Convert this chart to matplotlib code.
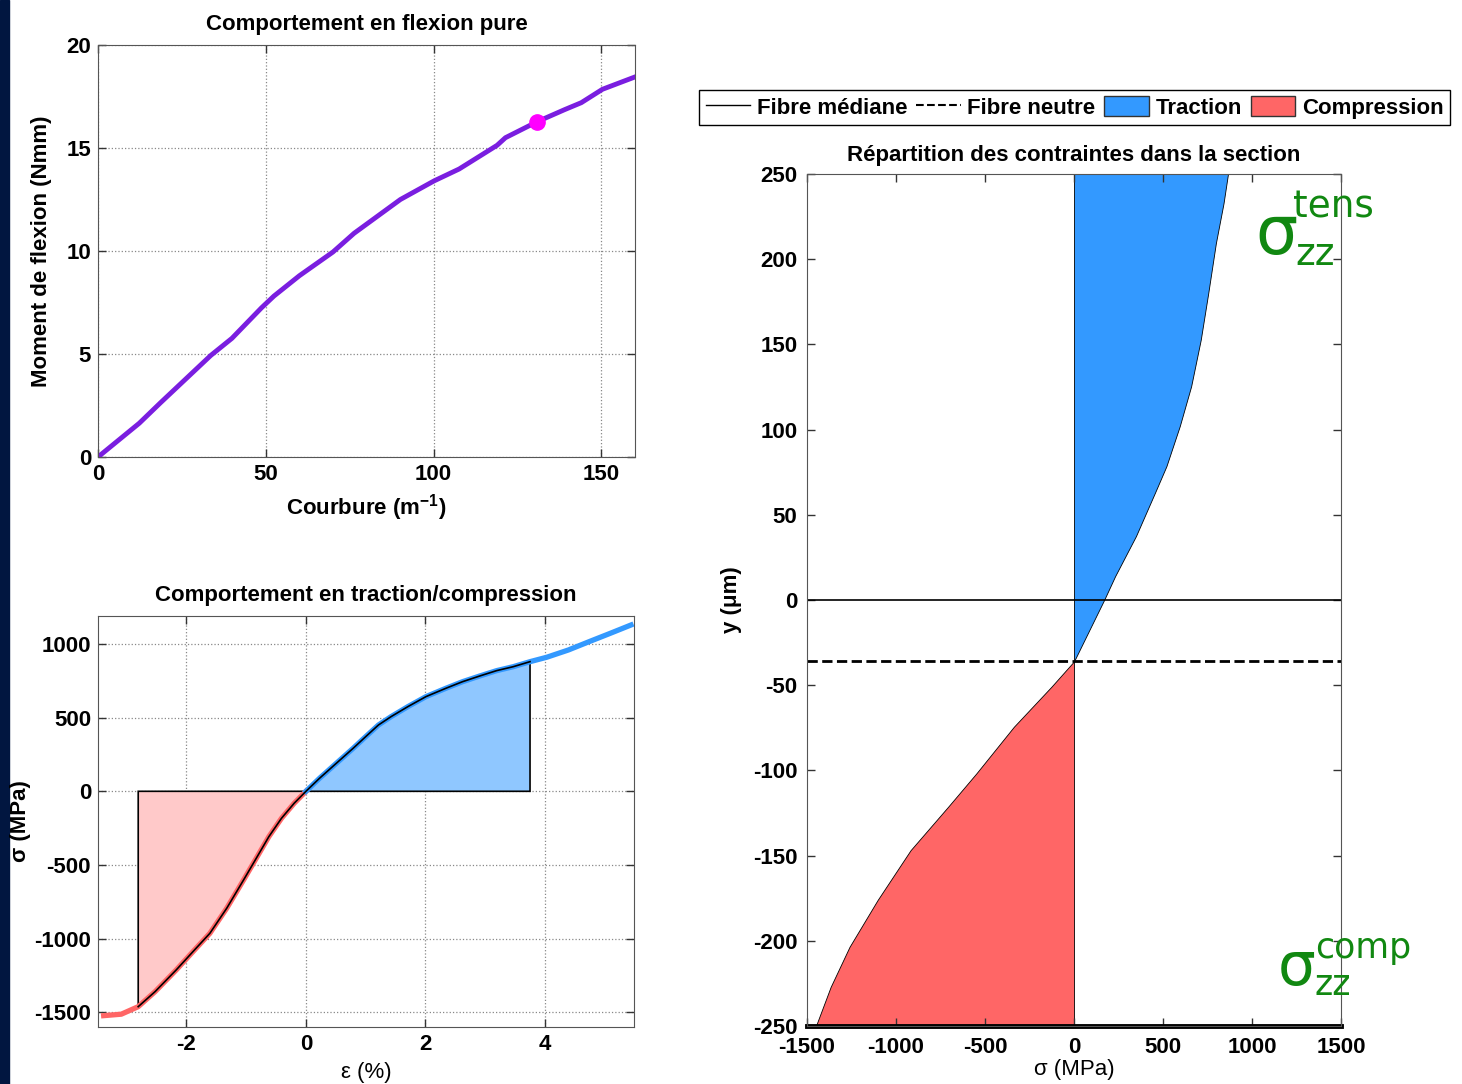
import matplotlib
matplotlib.use("Agg")
import matplotlib.pyplot as plt
import numpy as np
from matplotlib.lines import Line2D
from matplotlib.patches import Patch, Rectangle

plt.rcParams['font.family'] = ['Liberation Sans', 'DejaVu Sans']
plt.rcParams['font.weight'] = 'bold'
plt.rcParams['mathtext.fontset'] = 'custom'
plt.rcParams['mathtext.rm'] = 'Liberation Sans:bold'
plt.rcParams['mathtext.default'] = 'regular'
plt.rcParams['axes.unicode_minus'] = False

# flexion pure : moment vs courbure
courbure = [0, 12.3, 18.6, 33.6, 39.9, 48.7, 52.4, 60, 70, 76.3, 90.1, 100.1,
            107.6, 118.9, 121.4, 130.9, 139, 144, 150.3, 160]
moment = [0, 1.64, 2.63, 4.93, 5.76, 7.24, 7.81, 8.8, 9.95, 10.86, 12.5, 13.4,
          13.98, 15.13, 15.5, 16.28, 16.86, 17.2, 17.85, 18.45]
point_courbure = 130.9
point_moment = 16.28

# traction / compression
eps_comp = [-3.385, -3.09, -2.807, -2.525, -2.172, -1.89, -1.608, -1.326, -1.044,
            -0.832, -0.621, -0.409, -0.197, 0]
sig_comp = [-1523, -1513, -1462, -1360, -1213, -1088, -964, -794, -602,
            -455, -308, -183, -81, 0]
eps_tens = [0, 0.226, 0.508, 0.79, 1.0, 1.213, 1.425, 1.707, 2.01, 2.34, 2.62,
            2.91, 3.19, 3.47, 3.75, 4.03, 4.39, 4.74, 5.09, 5.44]
sig_tens = [0, 88, 190, 292, 371, 450, 507, 575, 643, 699, 744,
            783, 819, 846, 880, 910, 959, 1016, 1072, 1129]
eps_min = -2.807
eps_max = 3.75

# repartition dans la section
y_tens = [250, 232.8, 209.4, 180, 152.7, 125.4, 102, 78.5, 63, 37.5, 14, 0, -36]
s_tens = [865, 840, 797, 754, 712, 658, 594, 519, 455, 348, 231, 169, 0]
y_comp = [-36, -50.9, -74.4, -101.8, -121.3, -146.8, -176, -203.5, -227, -250]
s_comp = [0, -127, -338, -549, -707, -918, -1103, -1261, -1367, -1450]
y_neutre = -36

W, H = 1462, 1084
fs = 16
fig = plt.figure(figsize=(W / 100, H / 100), dpi=100)
fig.add_artist(Rectangle((0, 0), 9 / W, 1, transform=fig.transFigure,
                         color='#011640', zorder=0))

def style(ax):
    ax.tick_params(direction='in', top=True, right=True, length=6, width=1,
                   labelsize=fs, pad=5, color='#333333')
    for s in ax.spines.values():
        s.set_color('#555555')

# --- haut gauche
ax1 = fig.add_axes([98 / W, 1 - 457 / H, 537 / W, 412 / H])
ax1.plot(courbure, moment, color='#7a1ee0', lw=3.5)
ax1.plot(point_courbure, point_moment, 'o', color='#ff00ff', ms=11)
ax1.set_xlim(0, 160)
ax1.set_ylim(0, 20)
ax1.set_xticks([0, 50, 100, 150])
ax1.set_yticks([0, 5, 10, 15, 20])
ax1.grid(True, linestyle=':', color='#888888', lw=0.9)
style(ax1)
ax1.set_title('Comportement en flexion pure', fontsize=fs, fontweight='bold', pad=11)
ax1.set_xlabel('Courbure (m$^{-1}$)', fontsize=fs, fontweight='bold', labelpad=5)
ax1.set_ylabel('Moment de flexion (Nmm)', fontsize=fs, fontweight='bold', labelpad=10)

# --- bas gauche
ax2 = fig.add_axes([98 / W, 1 - 1027 / H, 536 / W, 411 / H])
ec = np.array(eps_comp)
sc = np.array(sig_comp)
et = np.array(eps_tens)
st = np.array(sig_tens)
mc = ec >= eps_min
mt = et <= eps_max
ax2.fill(np.r_[eps_min, ec[mc]], np.r_[0, sc[mc]], facecolor='#ffc9c9',
         edgecolor='black', lw=1.2, zorder=2)
ax2.fill(np.r_[et[mt], eps_max], np.r_[st[mt], 0], facecolor='#8fc7ff',
         edgecolor='black', lw=1.2, zorder=2)
ax2.plot(ec, sc, color='#ff6666', lw=3.8, zorder=3)
ax2.plot(et, st, color='#3399ff', lw=3.8, zorder=3)
ax2.plot(np.r_[ec[mc], et[mt][1:]], np.r_[sc[mc], st[mt][1:]], color='black',
         lw=1.2, zorder=4)
ax2.set_xlim(-3.48, 5.49)
ax2.set_ylim(-1600, 1190)
ax2.set_xticks([-2, 0, 2, 4])
ax2.set_yticks([-1500, -1000, -500, 0, 500, 1000])
ax2.grid(True, linestyle=':', color='#888888', lw=0.9)
style(ax2)
ax2.set_title('Comportement en traction/compression', fontsize=fs,
              fontweight='bold', pad=11)
ax2.set_xlabel('ε (%)', fontsize=fs, fontweight='normal', labelpad=5)
ax2.set_ylabel('σ (MPa)', fontsize=fs, fontweight='bold', labelpad=2)

# --- droite
ax3 = fig.add_axes([807 / W, 1 - 1026 / H, 534 / W, 852 / H])
ax3.fill_betweenx(y_tens, 0, s_tens, facecolor='#3399ff', edgecolor='black', lw=0.6)
ax3.fill_betweenx(y_comp, 0, s_comp, facecolor='#ff6666', edgecolor='black', lw=0.6)
ax3.axhline(0, color='black', lw=1.2)
ax3.axhline(y_neutre, color='black', lw=2, linestyle='--')
ax3.axhline(-250, color='black', lw=3.5, clip_on=False)
ax3.set_xlim(-1500, 1500)
ax3.set_ylim(-250, 250)
ax3.set_xticks([-1500, -1000, -500, 0, 500, 1000, 1500])
ax3.set_yticks(np.arange(-250, 251, 50))
style(ax3)
ax3.tick_params(axis='x', pad=8)
ax3.tick_params(axis='y', pad=7)
ax3.set_title('Répartition des contraintes dans la section', fontsize=fs,
              fontweight='bold', pad=9)
ax3.set_xlabel('σ (MPa)', fontsize=fs, fontweight='normal', labelpad=1)
ax3.set_ylabel('y (μm)', fontsize=fs, fontweight='bold', labelpad=8)

handles = [Line2D([], [], color='black', lw=1),
           Line2D([], [], color='black', lw=1.5, linestyle='--'),
           Patch(facecolor='#3399ff', edgecolor='#333333'),
           Patch(facecolor='#ff6666', edgecolor='#333333')]
labels = ['Fibre médiane', 'Fibre neutre', 'Traction', 'Compression']
fig.legend(handles, labels, loc='center', bbox_to_anchor=(1074.5 / W, 1 - 107.5 / H),
           ncol=4, fontsize=fs, fancybox=False, edgecolor='black', framealpha=1,
           handlelength=2.0, handletextpad=0.3, columnspacing=0.4, borderpad=0.3,
           handleheight=1.0, borderaxespad=0)

# annotations sigma
g = '#118811'
fig.text(1255 / W, 1 - 254 / H, 'σ', color=g, fontsize=48, family='DejaVu Sans',
         fontweight='normal', va='baseline')
fig.text(1293 / W, 1 - 218 / H, 'tens', color=g, fontsize=27, family='DejaVu Sans',
         fontweight='normal', va='baseline')
fig.text(1295 / W, 1 - 265 / H, 'zz', color=g, fontsize=27, family='DejaVu Sans',
         fontweight='normal', va='baseline')
fig.text(1278 / W, 1 - 985 / H, 'σ', color=g, fontsize=43, family='DejaVu Sans',
         fontweight='normal', va='baseline')
fig.text(1315 / W, 1 - 958 / H, 'comp', color=g, fontsize=25, family='DejaVu Sans',
         fontweight='normal', va='baseline')
fig.text(1315 / W, 1 - 995 / H, 'zz', color=g, fontsize=25, family='DejaVu Sans',
         fontweight='normal', va='baseline')

fig.savefig('out.png', dpi=100)
